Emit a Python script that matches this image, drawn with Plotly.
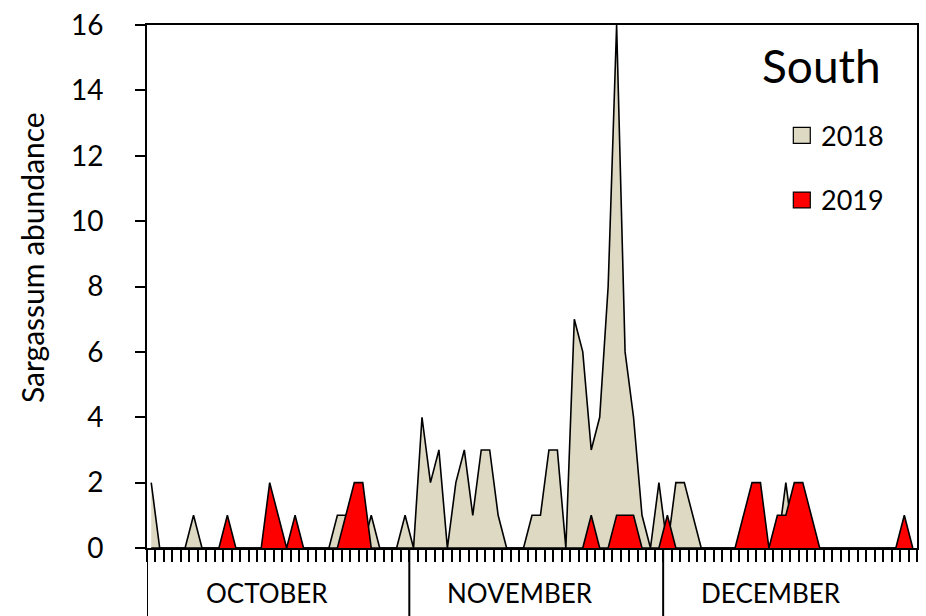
import plotly.graph_objects as go

# ---------------- data ----------------
months = ["OCTOBER", "NOVEMBER", "DECEMBER"]
month_days = [31, 30, 30]          # days shown per month (Oct 1 - Dec 30)
n_days = sum(month_days)

# Sargassum abundance per day (index 0 = 1 October)
abund_2018_nonzero = {
    0: 2, 5: 1, 22: 1, 23: 1, 26: 1, 30: 1,
    32: 4, 33: 2, 34: 3, 36: 2, 37: 3, 38: 1, 39: 3, 40: 3, 41: 1,
    45: 1, 46: 1, 47: 3, 48: 3, 50: 7, 51: 6, 52: 3, 53: 4, 54: 8,
    55: 16, 56: 6, 57: 4, 58: 1, 60: 2, 62: 2, 63: 2, 64: 1, 75: 2,
}
abund_2019_nonzero = {
    9: 1, 14: 2, 15: 1, 17: 1, 23: 1, 24: 2, 25: 2,
    52: 1, 55: 1, 56: 1, 57: 1, 61: 1,
    70: 1, 71: 2, 72: 2, 74: 1, 75: 1, 76: 2, 77: 2, 78: 1, 89: 1,
}
days = list(range(n_days))
values_2018 = [abund_2018_nonzero.get(d, 0) for d in days]
values_2019 = [abund_2019_nonzero.get(d, 0) for d in days]

y_ticks = [0, 2, 4, 6, 8, 10, 12, 14, 16]
series_names = ["2018", "2019"]
series_colors = ["#DDD9C3", "#FF0000"]

# ---------------- figure ----------------
W, H = 926, 616
L, R, T, B = 147, 7, 22, 68
PW, PH = W - L - R, H - T - B
FONT = "Lato"


def px_x(p):
    return (p - L) / PW


def px_y(p):
    return (H - B - p) / PH


fig = go.Figure()
for name, vals, col in zip(series_names, [values_2018, values_2019], series_colors):
    fig.add_trace(go.Scatter(
        x=days, y=vals, name=name, mode="lines",
        line=dict(color="black", width=1.6),
        fill="tozeroy", fillcolor=col, showlegend=False,
        hoverinfo="x+y",
    ))

shapes = []
annotations = []

# month boundaries below axis
cum = 0
bounds = [-0.5]
for md in month_days:
    cum += md
    bounds.append(cum - 0.5)
for b in bounds[:-1]:
    shapes.append(dict(type="line", xref="x", yref="paper", x0=b, x1=b,
                       y0=0, y1=px_y(H + 5), line=dict(color="black", width=2)))

# month labels
label_offsets = [13.7, 43.6, 73.2]
for m, xo in zip(months, label_offsets):
    annotations.append(dict(text=m, x=xo, xref="x", y=px_y(593), yref="paper",
                            showarrow=False, xanchor="center", yanchor="middle",
                            font=dict(family=FONT, size=26, color="black")))

# y axis title
annotations.append(dict(text="Sargassum abundance", x=px_x(31), xref="paper",
                        y=px_y(256), yref="paper", textangle=-90, showarrow=False,
                        xanchor="center", yanchor="middle",
                        font=dict(family=FONT, size=30, color="black")))

# panel title
annotations.append(dict(text="South", x=px_x(885), xref="paper", y=px_y(63), yref="paper",
                        showarrow=False, xanchor="right", yanchor="middle",
                        font=dict(family=FONT, size=46, color="black")))

# legend
for name, col, cy in zip(series_names, series_colors, [133, 198]):
    shapes.append(dict(type="rect", xref="paper", yref="paper",
                       x0=px_x(795), x1=px_x(812), y0=px_y(cy - 8), y1=px_y(cy + 8),
                       fillcolor=col, line=dict(color="black", width=1.2)))
    annotations.append(dict(text=name, x=px_x(821), xref="paper", y=px_y(cy), yref="paper",
                            showarrow=False, xanchor="left", yanchor="middle",
                            font=dict(family=FONT, size=27, color="black")))

fig.update_layout(
    width=W, height=H,
    margin=dict(l=L, r=R, t=T, b=B, pad=0),
    paper_bgcolor="white", plot_bgcolor="white",
    shapes=shapes, annotations=annotations,
    font=dict(family=FONT, color="black"),
    xaxis=dict(
        range=[-0.5, n_days - 0.5], showgrid=False, zeroline=False,
        tickvals=[d - 0.5 for d in range(n_days + 1)], showticklabels=False,
        ticks="outside", ticklen=12, tickwidth=2, tickcolor="black",
        showline=True, linecolor="black", linewidth=2, mirror=True,
    ),
    yaxis=dict(
        range=[0, 16], tickvals=y_ticks, showgrid=False, zeroline=False,
        ticks="outside", ticklen=10, tickwidth=2, tickcolor="black",
        ticklabelstandoff=26,
        tickfont=dict(family=FONT, size=28, color="black"),
        showline=True, linecolor="black", linewidth=2, mirror=True,
    ),
)

fig.write_html(
    "out.html",
    config={"displayModeBar": False},
    post_script="document.body.style.margin='0';document.body.style.overflow='hidden';",
)
